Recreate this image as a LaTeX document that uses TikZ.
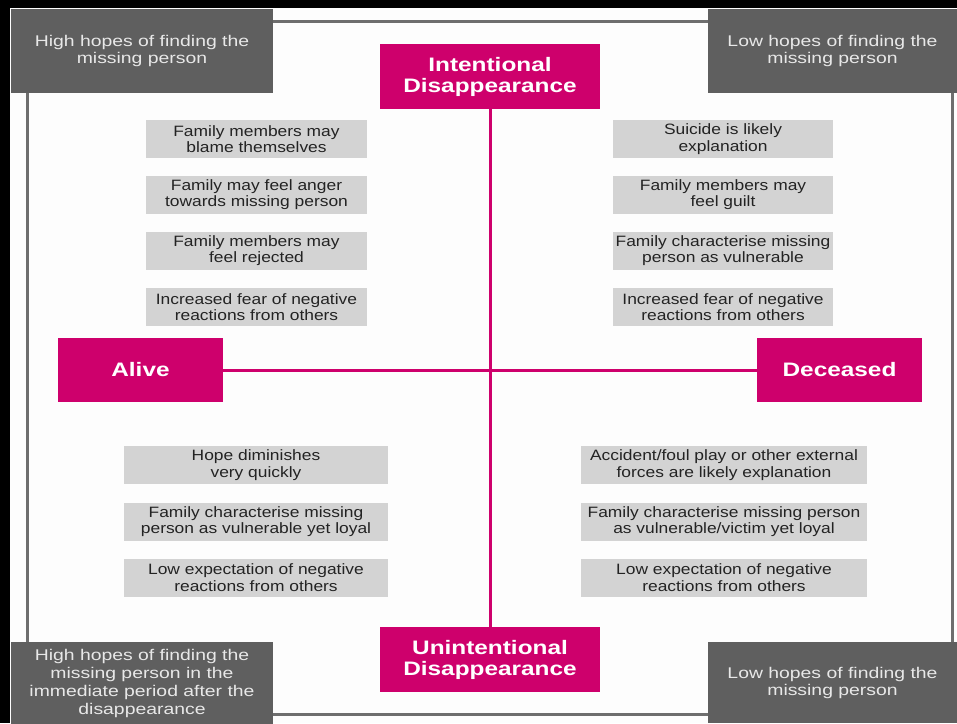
\documentclass[tikz,border=0pt]{standalone}
\usepackage{fontspec}
\setmainfont{Liberation Sans}[FakeStretch=1.25]
\newfontfamily\notefont{Liberation Sans}[FakeStretch=1.16]

\definecolor{axispink}{RGB}{206,0,108}
\definecolor{hopegray}{RGB}{95,95,95}
\definecolor{hopetext}{RGB}{232,232,232}
\definecolor{notegray}{RGB}{211,211,211}
\definecolor{notetext}{RGB}{35,35,35}
\definecolor{framegray}{RGB}{110,110,110}
\definecolor{paper}{RGB}{253,253,253}

\tikzset{
  every node/.style={align=center, inner sep=0pt},
  hopebox/.style={fill=hopegray, text=hopetext, minimum height=84pt,
    font=\fontsize{15.5}{17}\selectfont},
  axisbox/.style={fill=axispink, text=white, minimum height=64pt,
    font=\bfseries\fontsize{19.5}{21}\selectfont},
  notebox/.style={fill=notegray, text=notetext, minimum height=38pt,
    font=\notefont\fontsize{15}{16.7}\selectfont},
  axisline/.style={draw=axispink, line width=3pt}
}

\begin{document}
\begin{tikzpicture}[x=1pt, y=-1pt]
\useasboundingbox (0,0) rectangle (957,723);

% Paper and outer edge
\fill [black] (0,0) rectangle (957,723);
\fill [paper] (10,8) rectangle (957,723);

% Drawing frame
\draw [framegray, line width=3pt] (27,21) rectangle (952,714);

% Corner boxes
\node [hopebox, minimum width=262pt] (hopeTL) at (142,51)
  {High hopes of finding the\\missing person};
\node [hopebox, minimum width=249pt] (hopeTR) at (832.5,51)
  {Low hopes of finding the\\missing person};
\node [hopebox, minimum width=262pt, minimum height=82pt,
  font=\fontsize{15.5}{18}\selectfont] (hopeBL) at (142,683)
  {High hopes of finding the\\missing person in the\\immediate period after the\\disappearance};
\node [hopebox, minimum width=249pt, minimum height=81pt] (hopeBR) at (832.5,682.5)
  {Low hopes of finding the\\missing person};

% Axis boxes
\node [axisbox, minimum width=220pt, minimum height=65pt] (intent) at (490,76.5)
  {Intentional\\Disappearance};
\node [axisbox, minimum width=220pt, minimum height=65pt] (unintent) at (490,659.5)
  {Unintentional\\Disappearance};
\node [axisbox, minimum width=165pt] (alive) at (140.5,370) {Alive};
\node [axisbox, minimum width=165pt] (deceased) at (839.5,370) {Deceased};

% Drawing axes
\draw [axisline] (intent) -- (unintent);
\draw [axisline] (alive) -- (deceased);

% Intentional, alive
\node [notebox, minimum width=221pt] (ia1) at (256.5,139)
  {Family members may\\blame themselves};
\node [notebox, minimum width=221pt] (ia2) at (256.5,194.5)
  {Family may feel anger\\towards missing person};
\node [notebox, minimum width=221pt] (ia3) at (256.5,250.5)
  {Family members may\\feel rejected};
\node [notebox, minimum width=221pt] (ia4) at (256.5,307)
  {Increased fear of negative\\reactions from others};

% Intentional, deceased
\node [notebox, minimum width=220pt] (id1) at (723,139)
  {Suicide is likely\\explanation};
\node [notebox, minimum width=220pt] (id2) at (723,194.5)
  {Family members may\\feel guilt};
\node [notebox, minimum width=220pt] (id3) at (723,250.5)
  {Family characterise missing\\person as vulnerable};
\node [notebox, minimum width=220pt] (id4) at (723,307)
  {Increased fear of negative\\reactions from others};

% Unintentional, alive
\node [notebox, minimum width=264pt] (ua1) at (256,465)
  {Hope diminishes\\very quickly};
\node [notebox, minimum width=264pt] (ua2) at (256,521.5)
  {Family characterise missing\\person as vulnerable yet loyal};
\node [notebox, minimum width=264pt] (ua3) at (256,577.5)
  {Low expectation of negative\\reactions from others};

% Unintentional, deceased
\node [notebox, minimum width=286pt] (ud1) at (724,465)
  {Accident/foul play or other external\\forces are likely explanation};
\node [notebox, minimum width=286pt] (ud2) at (724,521.5)
  {Family characterise missing person\\as vulnerable/victim yet loyal};
\node [notebox, minimum width=286pt] (ud3) at (724,577.5)
  {Low expectation of negative\\reactions from others};
\end{tikzpicture}
\end{document}
